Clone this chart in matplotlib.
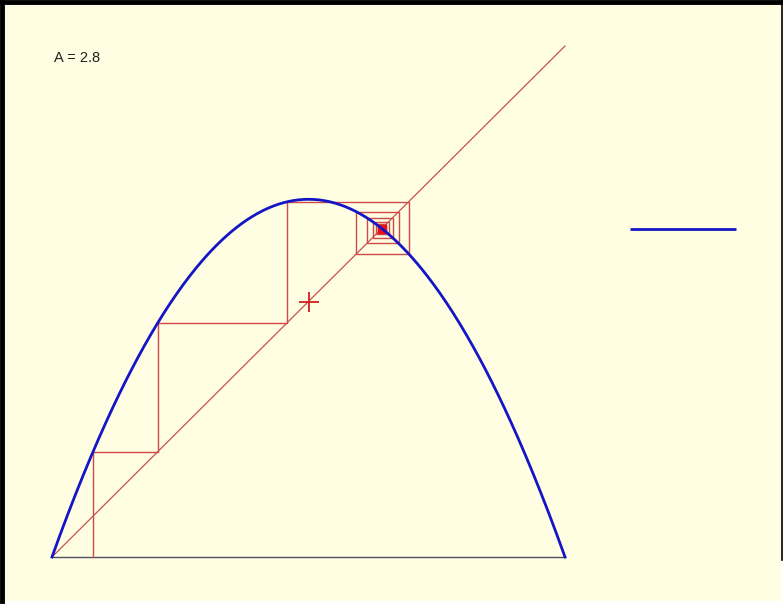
import numpy as np
import matplotlib.pyplot as plt

# logistic map x -> A x (1 - x), cobweb from x0
A = 2.8
x0 = 0.08
n_iter = 120
cross_point = [0.5, 0.5]
fixed_seg_x = [1.127, 1.333]

def f(x):
    return A * x * (1 - x)

xs = np.linspace(0, 1, 400)

# cobweb path
px = [x0, x0]
py = [0.0, f(x0)]
x = x0
for _ in range(n_iter):
    y = f(x)
    px += [y, y]
    py += [y, f(y)]
    x = y

fig = plt.figure(figsize=(7.83, 6.06), dpi=100)
fig.patch.set_facecolor('white')
ax = fig.add_axes([0, 0, 1, 1])
ax.set_facecolor('white')
ax.set_xlim(-52 / 513, (783 - 52) / 513)
ax.set_ylim(-49 / 511, 557 / 511)
ax.axis('off')

def sx(p):
    return (p - 52) / 513

def sy(p):
    return (557 - p) / 511

# cream panel with black frame
bg = plt.Rectangle((sx(0), sy(601)), sx(781) - sx(0), sy(0) - sy(601),
                   facecolor='#FFFEE2', edgecolor='none', zorder=0)
ax.add_patch(bg)
ax.plot([sx(2), sx(2)], [sy(601), sy(0)], color='black', lw=3.5, zorder=5)
ax.plot([sx(0), sx(783)], [sy(2), sy(2)], color='black', lw=3.5, zorder=5)
ax.plot([sx(781.5), sx(781.5)], [sy(0), sy(560)], color='black', lw=1.2, zorder=5)

# baseline, diagonal, cobweb
ax.plot([0, 1], [0, 0], color='#505060', lw=1.0)
ax.plot([0, 1], [0, 1], color='#C85050', lw=0.9)
ax.plot(px, py, color='#D04848', lw=1.0)

xf = 1 - 1 / A
ax.plot(xf, xf, marker='s', color='#EE1010', markersize=5.5, mec='#EE1010')

# parabola
ax.plot(xs, f(xs), color='#1515C8', lw=2.0)

ax.plot(*cross_point, marker='+', color='#D02020', markersize=15, mew=1.3)

# fixed point level
ax.plot(fixed_seg_x, [xf, xf], color='#1515C8', lw=2.0, solid_capstyle='butt')

ax.text(0.003, sy(58), 'A = 2.8', fontsize=10.5, family='Liberation Sans',
        va='center', ha='left', color='#202020')

fig.savefig('out.png', dpi=100, facecolor=fig.get_facecolor())
